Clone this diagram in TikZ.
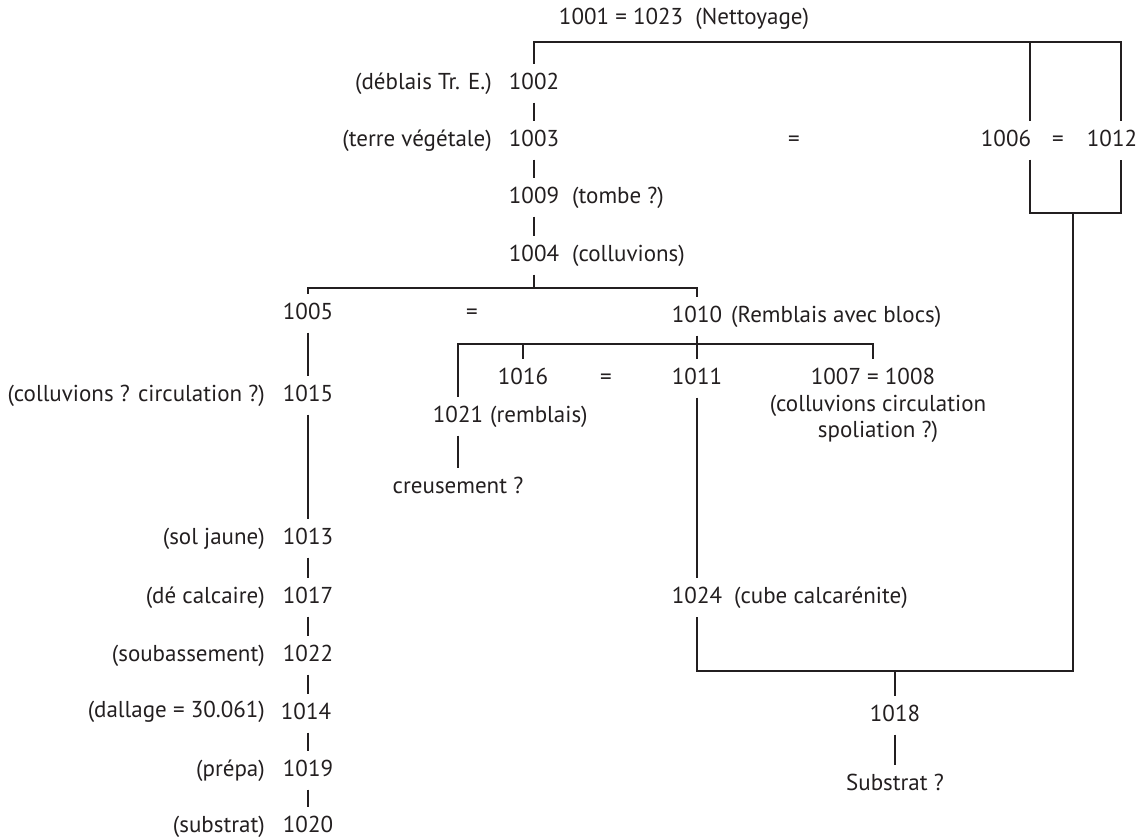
\documentclass[tikz,border=0pt]{standalone}
\usepackage{fontspec}
\setmainfont{PT Sans}
\definecolor{ink}{HTML}{231F20}
\begin{document}
\begin{tikzpicture}[x=1pt,y=-1pt,
  every node/.style={font=\fontsize{23}{27}\selectfont, text=ink, inner sep=0pt},
  num/.style={text height=17pt, text depth=5pt, outer xsep=0pt, outer ysep=8.5pt},
  lab/.style={text height=17pt, text depth=5pt},
  ln/.style={draw=ink, line width=2.9pt}]
\useasboundingbox (0,0) rectangle (1141,838);
% title
\node[lab] (title) at (684,18) {1001 = 1023~~(Nettoyage)};
% top column
\node[num] (n1002) at (534,83) {1002};
\node[lab, anchor=east] (l1002) at (492,83) {(déblais Tr. E.)};
\node[num] (n1003) at (534,140) {1003};
\node[lab, anchor=east] (l1003) at (492,140) {(terre végétale)};
\node[lab] (eq1) at (794,140) {=};
\node[num] (n1006) at (1006,140) {1006};
\node[lab] (eq2) at (1058,140) {=};
\node[num] (n1012) at (1112,140) {1012};
\node[num] (n1009) at (534,197) {1009};
\node[lab, anchor=west] (l1009) at (572,197) {(tombe ?)};
\node[num] (n1004) at (534,255) {1004};
\node[lab, anchor=west] (l1004) at (572,255) {(colluvions)};
% second level
\node[num] (n1005) at (308,313) {1005};
\node[lab] (eq3) at (472,313) {=};
\node[num] (n1010) at (697,316) {1010};
\node[lab, anchor=west] (l1010) at (731,316) {(Remblais avec blocs)};
% third level
\node[num] (n1016) at (523,378) {1016};
\node[lab] (eq4) at (606,378) {=};
\node[num] (n1011) at (697,378) {1011};
\node[num] (n1007) at (873,378) {1007 = 1008};
\node[lab] (l1007a) at (878,405) {(colluvions circulation};
\node[lab] (l1007b) at (878,431) {spoliation ?)};
\node[num] (n1015) at (308,395) {1015};
\node[lab, anchor=east] (l1015) at (265,395) {(colluvions ? circulation ?)};
\node[num] (n1021) at (458,416) {1021};
\node[lab, anchor=west] (l1021) at (490,416) {(remblais)};
\node[num] (ncreus) at (458,487) {creusement ?};
% left column
\node[num] (n1013) at (308,538) {1013};
\node[lab, anchor=east] (l1013) at (265,538) {(sol jaune)};
\node[num] (n1017) at (308,597) {1017};
\node[lab, anchor=east] (l1017) at (265,597) {(dé calcaire)};
\node[num] (n1022) at (308,655) {1022};
\node[lab, anchor=east] (l1022) at (265,655) {(soubassement)};
\node[num] (n1014) at (306,713) {1014};
\node[lab, anchor=east] (l1014) at (265,711) {(dallage = 30.061)};
\node[num] (n1019) at (308,770) {1019};
\node[lab, anchor=east] (l1019) at (265,770) {(prépa)};
\node[num] (n1020) at (308,826) {1020};
\node[lab, anchor=east] (l1020) at (265,826) {(substrat)};
% right part
\node[num] (n1024) at (697,597) {1024};
\node[lab, anchor=west] (l1024) at (734,597) {(cube calcarénite)};
\node[num] (n1018) at (895,715) {1018};
\node[num] (nsub) at (895,784) {Substrat ?};
% coordinates
\coordinate (top) at (1121,42);
\coordinate (v1006) at (1030,0);
\coordinate (j1) at (1073,213);
\coordinate (j2) at (1073,671);
\coordinate (h2) at (0,288);
\coordinate (h3) at (0,344);
% connectors
\draw[ln] (n1002.north) |- (top) -- ([xshift=9pt]n1012.north);
\draw[ln] (v1006 |- top) -- (v1006 |- n1006.north);
\draw[ln] (v1006 |- n1006.south) |- (j1) -| ([xshift=9pt]n1012.south);
\draw[ln] (j1) -- (j2) -| (n1024.south);
\draw[ln] (n1018.north) -- (n1018.north |- j2);
\draw[ln] (n1018.south) -- (nsub.north);
\draw[ln] (n1002.south) -- (n1003.north);
\draw[ln] (n1003.south) -- (n1009.north);
\draw[ln] (n1009.south) -- (n1004.north);
\draw[ln] (n1004.south) -- (n1004.south |- h2);
\draw[ln] (n1005.north) |- (n1010.north |- h2) -- (n1010.north);
\draw[ln] (n1021.north) |- (n1007.north |- h3) -- (n1007.north);
\draw[ln] (n1016.north) -- (n1016.north |- h3);
\draw[ln] (n1010.south) -- (n1011.north);
\draw[ln] (n1021.south) -- (ncreus.north);
\draw[ln] (n1011.south) -- (n1024.north);
\draw[ln] (n1005.south) -- (n1015.north);
\draw[ln] (n1015.south) -- (n1013.north);
\draw[ln] (n1013.south) -- (n1017.north);
\draw[ln] (n1017.south) -- (n1022.north);
\draw[ln] (n1022.south) -- (n1014.north -| n1022.south);
\draw[ln] (n1014.south -| n1022.south) -- (n1019.north);
\draw[ln] (n1019.south) -- (n1020.north);
\end{tikzpicture}
\end{document}
